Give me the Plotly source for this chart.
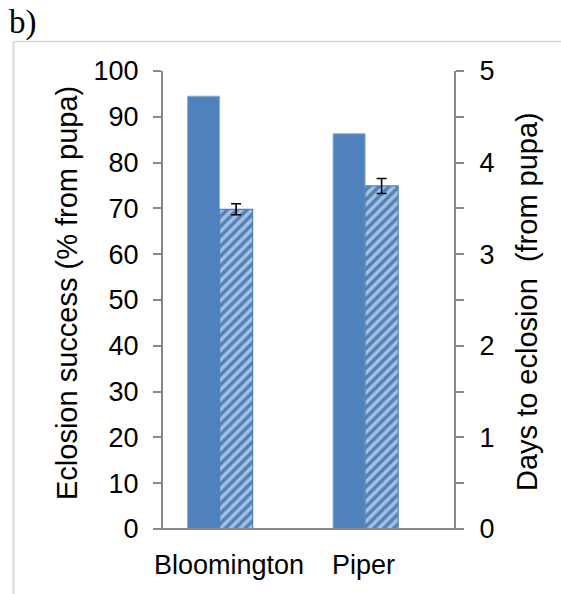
import plotly.graph_objects as go

categories = ["Bloomington", "Piper"]
eclosion_success = [94.5, 86.3]          # % from pupa (left axis)
days_to_eclosion = [3.49, 3.745]         # days (right axis)
days_err = [0.06, 0.082]
label_shift = [-7, -18]

BLUE = "#4F81BD"
AXIS = "#898989"
FONT = "Liberation Sans, Arial, sans-serif"

W, H = 561, 594
L, R, T, B = 163, 454, 71, 529
pw, ph = R - L, B - T

def px(x):
    return (x - L) / pw

def py(y):
    return (B - y) / ph

fig = go.Figure()
fig.add_trace(go.Bar(
    x=categories, y=eclosion_success, yaxis="y",
    offset=-0.331, width=0.22,
    marker=dict(color=BLUE, line=dict(color="#8EADD6", width=1)),
    showlegend=False,
))
fig.add_trace(go.Bar(
    x=categories, y=days_to_eclosion, yaxis="y2",
    offset=-0.111, width=0.227,
    marker=dict(color=BLUE, line=dict(color=BLUE, width=1.2),
                pattern=dict(shape="/", fgcolor="white", bgcolor=BLUE,
                             size=7, solidity=0.5, fillmode="overlay")),
    error_y=dict(type="data", array=days_err, color="black", thickness=1.6, width=5),
    showlegend=False,
))

tickfont = dict(family=FONT, size=27, color="black")

fig.update_layout(
    width=W, height=H,
    margin=dict(l=L, r=W - R, t=T, b=H - B),
    paper_bgcolor="white", plot_bgcolor="white",
    barmode="overlay",
    font=dict(family=FONT, color="black"),
    xaxis=dict(type="category", showticklabels=False, ticks="", showgrid=False,
               showline=False, zeroline=False, range=[-0.5, 1.5]),
    yaxis=dict(range=[0, 100], dtick=10, ticks="outside", ticklen=8, tickwidth=2,
               tickcolor=AXIS, showline=True, linecolor=AXIS, linewidth=2,
               showgrid=False, zeroline=False, tickfont=tickfont,
               ticklabelstandoff=9),
    yaxis2=dict(range=[0, 5], dtick=1, overlaying="y", side="right",
                ticks="outside", ticklen=8, tickwidth=2, tickcolor=AXIS,
                minor=dict(dtick=0.5, ticks="outside", ticklen=8, tickwidth=2, tickcolor=AXIS),
                showline=True, linecolor=AXIS, linewidth=2, showgrid=False,
                zeroline=False, tickfont=tickfont, ticklabelstandoff=10),
)

shapes = [
    dict(type="line", xref="paper", yref="paper", x0=px(154), x1=px(462), y0=0, y1=0,
         line=dict(color=AXIS, width=2)),
    dict(type="line", xref="paper", yref="paper", x0=px(13.5), x1=px(13.5), y0=py(41.5), y1=py(600),
         line=dict(color="#D9D9D9", width=2)),
    dict(type="line", xref="paper", yref="paper", x0=px(13.5), x1=px(565), y0=py(41.5), y1=py(41.5),
         line=dict(color="#D9D9D9", width=1.5)),
]
fig.update_layout(shapes=shapes)

annotations = [
    dict(text="b)", xref="paper", yref="paper", x=px(7), y=py(2), xanchor="left", yanchor="top",
         showarrow=False, font=dict(family="Liberation Serif, Times New Roman, serif", size=33, color="black")),
    dict(text="Eclosion success (% from pupa)", xref="paper", yref="paper", x=px(67), y=py(293),
         xanchor="center", yanchor="middle", textangle=-90, showarrow=False,
         font=dict(family=FONT, size=29, color="black")),
    dict(text="Days to eclosion\u00a0 (from pupa)", xref="paper", yref="paper", x=px(527), y=py(302),
         xanchor="center", yanchor="middle", textangle=-90, showarrow=False,
         font=dict(family=FONT, size=29, color="black")),
]
for cat, sh in zip(categories, label_shift):
    annotations.append(dict(text=cat, x=cat, xref="x", yref="paper", y=py(565), xshift=sh,
                            xanchor="center", yanchor="middle", showarrow=False,
                            font=dict(family=FONT, size=27, color="black")))
fig.update_layout(annotations=annotations)

fig.write_html("out.html")
